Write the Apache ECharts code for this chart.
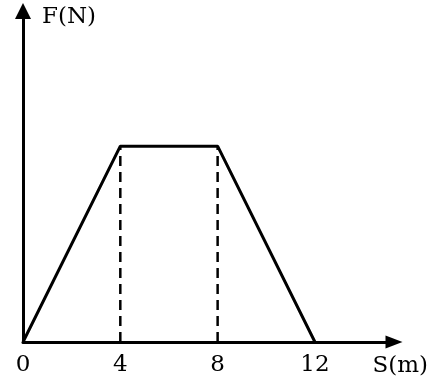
<!DOCTYPE html>
<html>
<head>
<meta charset="utf-8">
<script src="https://cdn.jsdelivr.net/npm/echarts@6/dist/echarts.min.js"></script>
<style>
  html, body { margin: 0; padding: 0; background: #fff; }
  #chart { width: 446px; height: 380px; }
</style>
</head>
<body>
<div id="chart"></div>
<script>
// S (m) at the corners of the force graph
const sValues = [0, 4, 8, 12]
// F at those corners (no scale on the F axis, peak taken as 10)
const fValues = [0, 10, 10, 0]
// tick labels on the S axis
const sTicks = [0, 4, 8, 12]
// the two dashed drop lines under the flat part
const dropS = [4, 8]

const font = 'DejaVu Serif'
const ink = '#000'

const lineData = sValues.map((s, i) => [s, fValues[i]])
const dropSeries = dropS.map(s => ({
  type: 'line',
  data: [[s, 0], [s, fValues[sValues.indexOf(s)]]],
  showSymbol: false,
  silent: true,
  lineStyle: { color: ink, width: 2.5, type: [10, 6] },
  z: 1
}))

const chart = echarts.init(document.getElementById('chart'))
chart.setOption({
  animation: false,
  grid: { left: 23, right: 52, top: 11, bottom: 38, outerBoundsMode: 'none', containLabel: false },
  xAxis: {
    type: 'value',
    min: 0,
    max: 15.25,
    name: 'S(m)',
    nameLocation: 'end',
    nameGap: 34,
    nameTextStyle: {
      fontFamily: font, fontSize: 23, color: ink,
      align: 'right', verticalAlign: 'top', padding: [13, 0, 0, 0]
    },
    axisLine: {
      lineStyle: { color: ink, width: 3 },
      symbol: ['none', 'triangle'],
      symbolSize: [13, 17]
    },
    axisTick: { show: false },
    splitLine: { show: false },
    axisLabel: {
      customValues: sTicks,
      fontFamily: font, fontSize: 23, color: ink, margin: 12
    }
  },
  yAxis: {
    type: 'value',
    min: 0,
    max: 16.9,
    name: 'F(N)',
    nameLocation: 'end',
    nameGap: -6,
    nameTextStyle: {
      fontFamily: font, fontSize: 23, color: ink,
      align: 'left', verticalAlign: 'middle', padding: [0, 0, 0, 19]
    },
    axisLine: {
      show: true,
      lineStyle: { color: ink, width: 3 },
      symbol: ['none', 'triangle'],
      symbolSize: [16, 16]
    },
    axisTick: { show: false },
    axisLabel: { show: false },
    splitLine: { show: false }
  },
  series: [
    {
      type: 'line',
      data: lineData,
      showSymbol: false,
      silent: true,
      lineStyle: { color: ink, width: 3 },
      z: 3
    },
    ...dropSeries
  ]
})
</script>
</body>
</html>
